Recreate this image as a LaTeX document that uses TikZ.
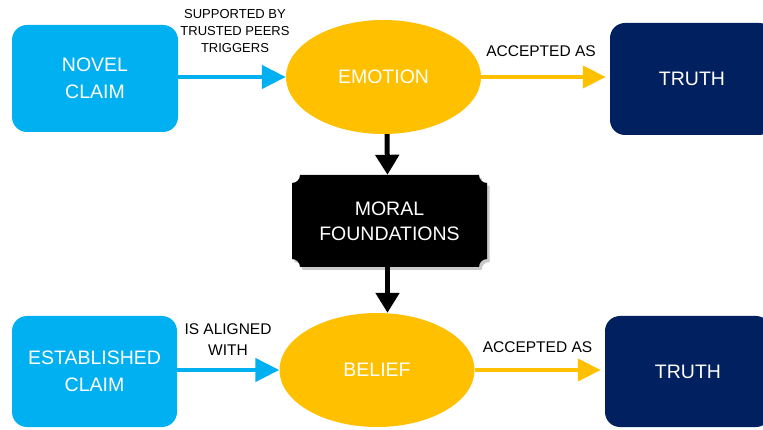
\documentclass[tikz,border=0pt]{standalone}
\usepackage{fontspec}
\setmainfont{Liberation Sans}
\usetikzlibrary{arrows.meta,shapes.geometric,calc}
\definecolor{cblue}{HTML}{00B0F0}
\definecolor{cyel}{HTML}{FFC000}
\definecolor{cnavy}{HTML}{002060}
\begin{document}
\begin{tikzpicture}[x=1pt,y=-1pt,
  box/.style={rectangle, rounded corners=15pt, inner sep=0pt, align=center, text=white,
    font=\fontsize{19.5}{26.5}\selectfont},
  oval/.style={ellipse, fill=cyel, inner sep=0pt, text=white, font=\fontsize{19.5}{24}\selectfont,
    minimum width=195pt, minimum height=114pt},
  lbl/.style={align=center, inner sep=0pt, text=black, font=\fontsize{15.5}{21}\selectfont},
  bluearrow/.style={draw=cblue, line width=4.5pt, -{Triangle[length=24pt,width=23pt]}},
  yelarrow/.style={draw=cyel, line width=4pt, -{Triangle[length=23pt,width=22pt]}, shorten >=4pt},
  blackarrow/.style={draw=black, line width=5pt, -{Triangle[length=20pt,width=23pt]}}
]
\useasboundingbox (0,0) rectangle (763,430);

% top row
\node[box, fill=cblue, minimum width=166pt, minimum height=107pt] (novel) at (95,78.5) {NOVEL\\CLAIM};
\node[oval] (emotion) at (383.5,77) {EMOTION};
\node[box, fill=cnavy, minimum width=164pt, minimum height=112pt] (truthA) at (692,79) {TRUTH};

% moral foundations plaque
\fill[black!35, opacity=0.6, xshift=2.5pt, yshift=-3pt]
  (300,175) -- (479,175) arc[start angle=180,end angle=270,radius=8pt]
  -- (487,259) arc[start angle=90,end angle=180,radius=8pt]
  -- (300,267) arc[start angle=0,end angle=90,radius=8pt]
  -- (292,183) arc[start angle=270,end angle=360,radius=8pt] -- cycle;
\fill[black]
  (300,175) -- (479,175) arc[start angle=180,end angle=270,radius=8pt]
  -- (487,259) arc[start angle=90,end angle=180,radius=8pt]
  -- (300,267) arc[start angle=0,end angle=90,radius=8pt]
  -- (292,183) arc[start angle=270,end angle=360,radius=8pt] -- cycle;
\node[rectangle, inner sep=0pt, minimum width=195pt, minimum height=92pt, align=center, text=white,
  font=\fontsize{19.5}{25}\selectfont] (moral) at (389.5,221) {MORAL\\FOUNDATIONS};

% bottom row
\node[box, fill=cblue, minimum width=165pt, minimum height=111pt] (established) at (94.5,371.5) {ESTABLISHED\\CLAIM};
\node[oval] (belief) at (377,370) {BELIEF};
\node[box, fill=cnavy, minimum width=166pt, minimum height=111pt] (truthB) at (688,371.5) {TRUTH};

% connectors
\draw[bluearrow] (novel.east |- emotion.west) -- (emotion.west);
\draw[yelarrow] (emotion.east) -- (emotion.east -| truthA.west);
\draw[blackarrow] ($(emotion.south)+(3.5,0)$) -- ($(moral.north)+(-2,0)$);
\draw[blackarrow] ($(moral.south)+(-2,0)$) -- ($(moral.south |- belief.north)+(-2,0)$);
\draw[bluearrow] (established.east |- belief.west) -- (belief.west);
\draw[yelarrow] (belief.east) -- (belief.east -| truthB.west);

% labels
\node[lbl, font=\fontsize{13}{17}\selectfont] (lsup) at (235,31) {SUPPORTED BY\\TRUSTED PEERS\\TRIGGERS};
\node[lbl] (lacc1) at (541,51) {ACCEPTED AS};
\node[lbl] (lali) at (228,340) {IS ALIGNED\\WITH};
\node[lbl] (lacc2) at (537.5,347.5) {ACCEPTED AS};
\end{tikzpicture}
\end{document}
